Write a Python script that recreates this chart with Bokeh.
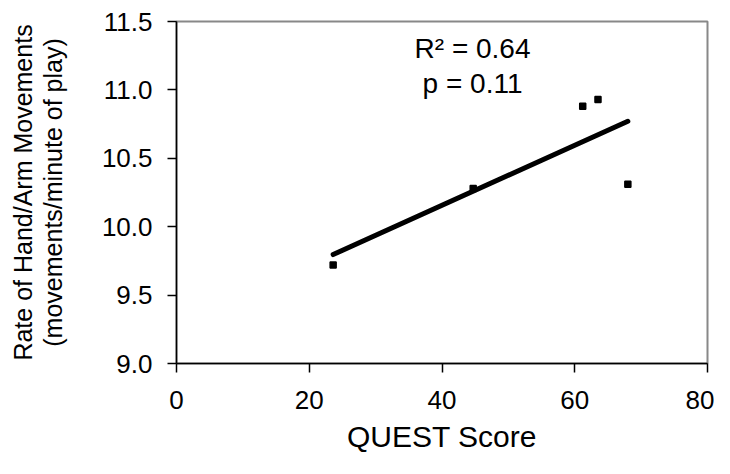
import numpy as np
from bokeh.plotting import figure
from bokeh.models import Range1d, FixedTicker, NumeralTickFormatter, ColumnDataSource
from bokeh.core.properties import value
from bokeh.embed import file_html
from bokeh.resources import INLINE

# Data
quest_score = [23.6, 44.7, 61.2, 63.5, 68.0]
move_rate = [9.72, 10.28, 10.88, 10.93, 10.31]
x_ticks = [0, 20, 40, 60, 80]
y_ticks = [9.0, 9.5, 10.0, 10.5, 11.0, 11.5]
stats_text = ["R\u00b2 = 0.64", "p = 0.11"]

# Styles
point_markers = ["square", "square", "square", "square", "square_x"]
FONT = "Liberation Sans"

p = figure(width=714, height=458, output_backend="svg", toolbar_location=None,
           x_range=Range1d(0, 80), y_range=Range1d(9.0, 11.5),
           min_border_left=176, min_border_right=7, min_border_top=21, min_border_bottom=95)

p.xgrid.visible = False
p.ygrid.visible = False
p.outline_line_color = "#888888"
p.outline_line_width = 2

for ax in (p.xaxis[0], p.yaxis[0]):
    ax.axis_line_color = "black"
    ax.axis_line_width = 1.5
    ax.major_tick_line_color = "black"
    ax.major_tick_line_width = 1.5
    ax.major_tick_in = 0
    ax.major_tick_out = 9
    ax.minor_tick_line_color = None
    ax.major_label_text_font = FONT
    ax.major_label_text_font_size = "26px"
    ax.major_label_text_color = "black"
    ax.axis_label_text_font = FONT
    ax.axis_label_text_font_style = "normal"
    ax.axis_label_text_color = "black"

p.xaxis.ticker = FixedTicker(ticks=x_ticks)
p.yaxis.ticker = FixedTicker(ticks=y_ticks)
p.yaxis.formatter = NumeralTickFormatter(format="0.0")
p.xaxis.major_label_standoff = 18
p.yaxis.major_label_standoff = 15
p.xaxis.axis_label = "QUEST Score"
p.xaxis.axis_label_text_font_size = "30px"
p.xaxis.axis_label_standoff = 8
p.yaxis.axis_label = "Rate of Hand/Arm Movements\n(movements/minute of play)"
p.yaxis.axis_label_text_font_size = "25px"
p.yaxis.axis_label_text_line_height = 1.05
p.yaxis.axis_label_standoff = 32

# Linear fit
xs = np.array(quest_score)
ys = np.array(move_rate)
slope, intercept = np.polyfit(xs, ys, 1)
fx = np.array([xs.min(), xs.max()])
p.line(fx, slope * fx + intercept, line_color="black", line_width=5, line_cap="round")

src = ColumnDataSource(dict(x=quest_score, y=move_rate, m=point_markers))
p.scatter("x", "y", source=src, marker="m", size=6, fill_color="black",
          line_color="black", line_width=1.5)

p.text(x=[44.6, 44.6], y=[11.30, 11.05], text=stats_text,
       text_font=value(FONT), text_font_size="28px", text_color="black",
       text_align="center", text_baseline="middle")

open("out.html", "w").write(file_html(p, INLINE))
